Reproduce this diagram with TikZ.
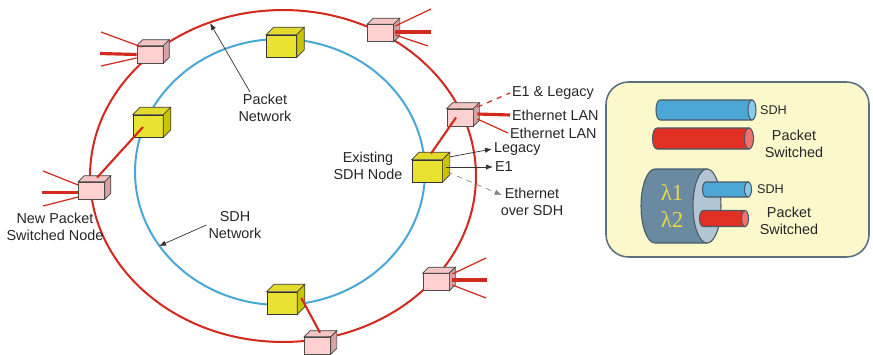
\documentclass[tikz,border=0pt]{standalone}
\usepackage{fontspec}
\setmainfont{Liberation Sans}
\newfontfamily\lambdafont{Liberation Serif}
\usetikzlibrary{arrows.meta}

\definecolor{ringred}{HTML}{D22A1E}
\definecolor{ringblue}{HTML}{4AA8D8}
\definecolor{sdhfront}{HTML}{EAE230}
\definecolor{sdhlid}{HTML}{E2DA2C}
\definecolor{sdhside}{HTML}{C8C400}
\definecolor{pktfront}{HTML}{FFD0D0}
\definecolor{pktlid}{HTML}{F2C4C4}
\definecolor{pktside}{HTML}{D4A4A4}
\definecolor{legendfill}{HTML}{FBF8CC}
\definecolor{legendline}{HTML}{5B7080}
\definecolor{cableblue}{HTML}{4CA6D6}
\definecolor{cableblueend}{HTML}{86CCEA}
\definecolor{cablered}{HTML}{E03024}
\definecolor{cableredend}{HTML}{F27070}
\definecolor{fibrebody}{HTML}{6A8AA2}
\definecolor{fibreface}{HTML}{B2C5D2}
\definecolor{lambdacol}{HTML}{E8D848}

\tikzset{
  sdhbox/.style={draw=black!80, fill=sdhfront, minimum width=0.6cm, minimum height=0.44cm, inner sep=0pt},
  pktbox/.style={draw=black!70, fill=pktfront, minimum width=0.52cm, minimum height=0.34cm, inner sep=0pt},
  link/.style={ringred, line width=1.2pt},
  feed/.style={ringred, line width=0.7pt},
  trunk/.style={ringred, line width=1.8pt},
  lbl/.style={text=black!85, align=center, inner sep=1pt, font=\fontsize{8.2}{9.8}\selectfont},
  small/.style={font=\fontsize{7.2}{8.6}\selectfont},
  pointer/.style={black!80, line width=0.4pt, -{Latex[length=4pt,width=3pt]}},
  cableedge/.style={draw=legendline!80!black, line width=0.6pt},
}

% lid and right side of a box node, #2 = depth
\newcommand{\boxfaces}[4]{%
  \draw[black!75, fill=#3] (#1.north west) -- ([shift={(#2,-#2)}]#1.north west)
    -- ([shift={(#2,-#2)}]#1.north east) -- (#1.north east) -- cycle;
  \draw[black!75, fill=#4] (#1.north east) -- ([shift={(#2,-#2)}]#1.north east)
    -- ([shift={(#2,-#2)}]#1.south east) -- (#1.south east) -- cycle;
}

% lying cylinder: x1, x2, y, radius, end radius, body colour, end colour
\newcommand{\cable}[7]{%
  \draw[cableedge, fill=#6] (#2,#3-#4) -- (#1,#3-#4)
    arc[start angle=90, end angle=270, x radius={#5*0.02cm}, y radius={#4*0.02cm}]
    -- (#2,#3+#4) -- cycle;
  \draw[cableedge, fill=#7] (#2,#3) ellipse[x radius={#5*0.02cm}, y radius={#4*0.02cm}];
}

\begin{document}
\begin{tikzpicture}[x=0.02cm, y=-0.02cm]
  \useasboundingbox (0,0) rectangle (873,355);

  % the two rings
  \draw[ringred, line width=1.15pt] (283,176) ellipse[x radius=3.86cm, y radius=3.32cm];
  \draw[ringblue, line width=1.15pt] (280,172) ellipse[x radius=2.9cm, y radius=2.66cm];
  \coordinate (pktring) at (210,23);
  \coordinate (sdhring) at (159,246);

  % SDH nodes on the inner ring
  \node[sdhbox] (sdhtop) at (281.5,46) {};
  \node[sdhbox] (sdhleft) at (148,126) {};
  \node[sdhbox] (sdhright) at (427,171) {};
  \node[sdhbox] (sdhbottom) at (282,303) {};
  \foreach \n in {sdhtop,sdhleft,sdhright,sdhbottom}
    {\boxfaces{\n}{7.5}{sdhlid}{sdhside}}

  % packet switched nodes on the outer ring
  \node[pktbox] (pktnw) at (150,54.5) {};
  \node[pktbox] (pktne) at (380.5,33) {};
  \node[pktbox] (pkte) at (460,117.5) {};
  \node[pktbox] (pktw) at (91.5,190.5) {};
  \node[pktbox] (pkts) at (317.5,345.5) {};
  \node[pktbox] (pktse) at (436,282) {};
  \foreach \n in {pktnw,pktne,pkte,pktw,pkts,pktse}
    {\boxfaces{\n}{6}{pktlid}{pktside}}

  % links between the rings
  \draw[link] ([shift={(-4,0)}]pkte.center) -- ([shift={(4,-6)}]sdhright.north);
  \draw[link] ([shift={(5.5,-4)}]pktw.north) -- ([shift={(-5,1)}]sdhleft.center);
  \draw[link] ([shift={(2.5,-4)}]pkts.north) -- ([shift={(4,-5)}]sdhbottom.east);

  % customer lines
  \coordinate (nwa) at (101,32);
  \coordinate (nwb) at (100,53.5);
  \coordinate (nwc) at (101,66);
  \draw[feed] ([shift={(5,-7.5)}]pktnw.west) -- (nwa);
  \draw[trunk] (pktnw.west) -- (nwb);
  \draw[feed] ([shift={(0,3.5)}]pktnw.west) -- (nwc);

  \coordinate (wa) at (43,171);
  \coordinate (wb) at (42,192.5);
  \coordinate (wc) at (43,206);
  \draw[feed] ([shift={(0,-5.5)}]pktw.west) -- (wa);
  \draw[trunk] ([shift={(0,2)}]pktw.west) -- (wb);
  \draw[feed] ([shift={(0,6.5)}]pktw.west) -- (wc);

  \coordinate (nea) at (431,9);
  \coordinate (neb) at (431,32);
  \coordinate (nec) at (428,46);
  \draw[feed] ([shift={(1.5,-7)}]pktne.east) -- (nea);
  \draw[trunk] ([shift={(1.5,-1)}]pktne.east) -- (neb);
  \draw[feed] ([shift={(1.5,2)}]pktne.east) -- (nec);

  \coordinate (sea) at (486,258);
  \coordinate (seb) at (487,280);
  \coordinate (sec) at (486,298);
  \draw[feed] ([shift={(3,-8)}]pktse.east) -- (sea);
  \draw[trunk] ([shift={(3,-2)}]pktse.east) -- (seb);
  \draw[feed] ([shift={(3,3)}]pktse.east) -- (sec);

  % services at the existing node
  \node[lbl, anchor=west] (e1leg) at (510,93) {E1 \& Legacy};
  \node[lbl, anchor=west] (lan1) at (510,115) {Ethernet LAN};
  \node[lbl, anchor=west] (lan2) at (508,133) {Ethernet LAN};
  \node[lbl, anchor=west] (legacy) at (492,149) {Legacy};
  \node[lbl, anchor=west] (e1) at (493,167) {E1};
  \node[lbl] (eos) at (532,202) {Ethernet\\over SDH};

  \draw[feed, dashed] ([shift={(4,-10.5)}]pkte.east) -- (e1leg.west);
  \draw[trunk] ([shift={(4,-3.5)}]pkte.east) -- (lan1.west);
  \draw[feed] ([shift={(4,1.5)}]pkte.east) -- (lan2.west);

  \draw[pointer] ([shift={(7,-14)}]sdhright.east) -- (legacy.west);
  \draw[pointer] ([shift={(4,-4)}]sdhright.east) -- (e1.west);
  \draw[pointer, gray, dashed] ([shift={(5,1)}]sdhright.east) -- ([shift={(3,-7)}]eos.west);

  % ring labels
  \node[lbl] (existing) at (368,166) {Existing\\SDH Node};
  \node[lbl] (pktnet) at (265,108) {Packet\\Network};
  \node[lbl] (sdhnet) at (235,225) {SDH\\Network};
  \node[lbl] (newpkt) at (55,227) {New Packet\\Switched Node};
  \draw[pointer] ([xshift=-0.3cm]pktnet.north) -- (pktring);
  \draw[pointer] (sdhnet.west) -- (sdhring);

  % legend
  \draw[legendline, line width=0.9pt, fill=legendfill, rounded corners=0.45cm] (606,82) rectangle (869,257);
  \cable{660}{752}{110}{10}{4}{cableblue}{cableblueend}
  \cable{657}{749}{138.5}{10.5}{4.5}{cablered}{cableredend}
  \cable{655}{707}{206}{37}{14}{fibrebody}{fibreface}
  \cable{706}{748}{189.5}{7.5}{3.5}{cableblue}{cableblueend}
  \cable{703}{745}{218.5}{8}{3.5}{cablered}{cableredend}

  \node[lbl, text=lambdacol, font=\lambdafont\fontsize{13}{15}\selectfont] (lam1) at (672,192) {λ1};
  \node[lbl, text=lambdacol, font=\lambdafont\fontsize{13}{15}\selectfont] (lam2) at (672,219) {λ2};

  \node[lbl, small, anchor=west] (sdhkey) at (758,110) {SDH};
  \node[lbl] (pktkey) at (794,144) {Packet\\Switched};
  \node[lbl, small, anchor=west] (sdhkey2) at (755,189) {SDH};
  \node[lbl] (pktkey2) at (789,221) {Packet\\Switched};
\end{tikzpicture}
\end{document}
